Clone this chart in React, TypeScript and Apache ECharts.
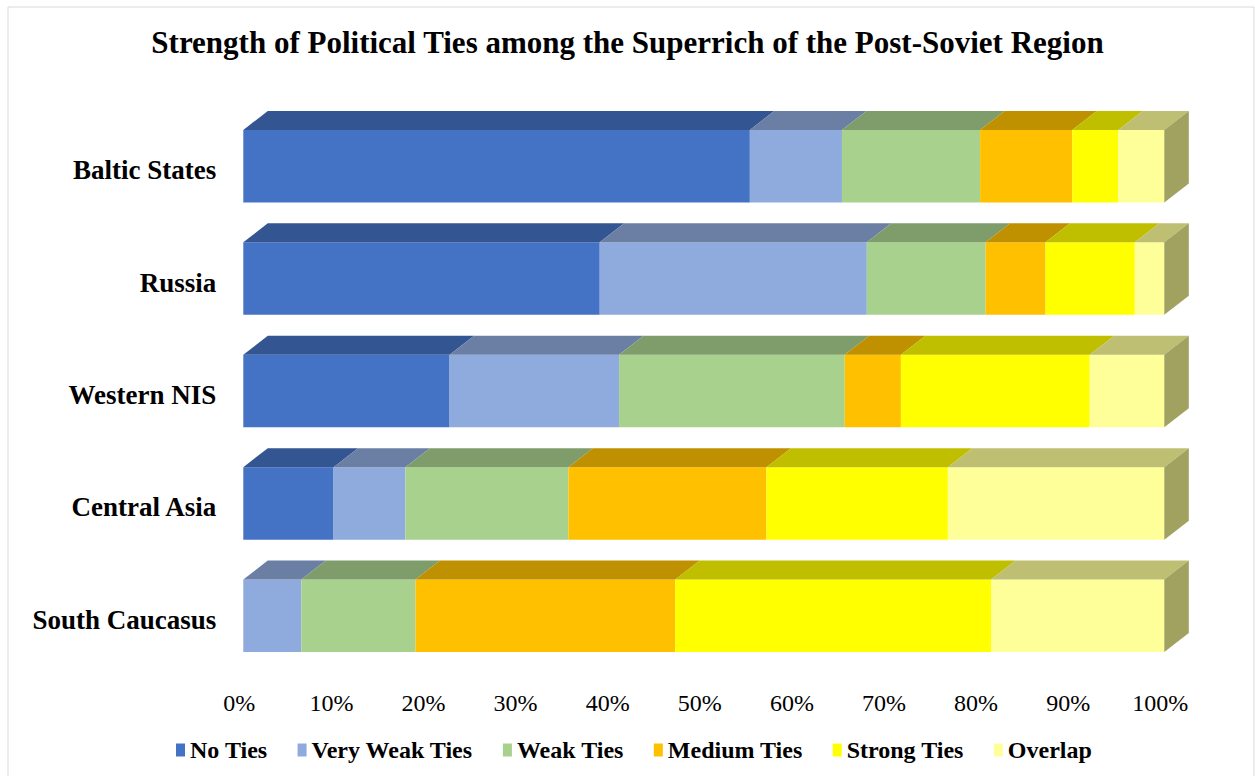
import React, { useEffect, useRef } from "react";
import * as echarts from "echarts";

const categories = ["Baltic States", "Russia", "Western NIS", "Central Asia", "South Caucasus"];
const seriesNames = ["No Ties", "Very Weak Ties", "Weak Ties", "Medium Ties", "Strong Ties", "Overlap"];
const noTies = [55.0, 38.7, 22.4, 9.8, 0];
const veryWeakTies = [10.0, 29.0, 18.4, 7.8, 6.3];
const weakTies = [15.0, 12.9, 24.5, 17.7, 12.4];
const mediumTies = [10.0, 6.5, 6.1, 21.5, 28.2];
const strongTies = [5.0, 9.7, 20.5, 19.7, 34.3];
const overlap = [5.0, 3.2, 8.1, 23.5, 18.8];
const xTicks = [0, 10, 20, 30, 40, 50, 60, 70, 80, 90, 100];

const frontColors = ["#4472C4", "#8FAADC", "#A9D18E", "#FFC000", "#FFFF00", "#FFFF99"];
const topColors = ["#335693", "#6B7FA5", "#7F9D6B", "#BF9000", "#BFBF00", "#BFBF73"];
const sideColors = ["#2B4A80", "#5A6B8B", "#6B845A", "#A17900", "#A1A100", "#A1A160"];

const FONT = "'Liberation Serif', 'Times New Roman', serif";

export default function App() {
  const ref = useRef<HTMLDivElement>(null);
  useEffect(() => {
    document.body.style.margin = "0";
    if (!ref.current) return;
    const chart = echarts.init(ref.current, null, { renderer: "svg" });
    const all = [noTies, veryWeakTies, weakTies, mediumTies, strongTies, overlap];
    const starts: number[][] = all.map(() => categories.map(() => 0));
    const lastIdx: number[] = categories.map(() => -1);
    categories.forEach((_, c) => {
      let acc = 0;
      all.forEach((arr, s) => {
        starts[s][c] = acc;
        acc += arr[c];
        if (arr[c] > 0) lastIdx[c] = s;
      });
    });
    const dx = 24.5;
    const dy = 19;
    const series = all.map((arr, s) => ({
      type: "custom",
      name: seriesNames[s],
      itemStyle: { color: frontColors[s] },
      encode: { x: [0, 1], y: 2 },
      data: arr.map((v, c) => [starts[s][c], starts[s][c] + v, c]),
      renderItem: (params: any, api: any) => {
        const a = api.value(0);
        const b = api.value(1);
        const c = api.value(2);
        if (b - a <= 0) return null;
        const p0 = api.coord([a, c]);
        const p1 = api.coord([b, c]);
        const band = api.size([0, 1])[1];
        const h = band * 0.645;
        const x0 = p0[0];
        const x1 = p1[0];
        const y0 = p0[1] - h / 2;
        const y1 = p0[1] + h / 2;
        const children: any[] = [
          {
            type: "rect",
            shape: { x: x0, y: y0, width: x1 - x0, height: h },
            style: { fill: frontColors[s] },
          },
          {
            type: "polygon",
            shape: { points: [[x0, y0], [x0 + dx, y0 - dy], [x1 + dx, y0 - dy], [x1, y0]] },
            style: { fill: topColors[s] },
          },
        ];
        if (lastIdx[c] === s) {
          children.push({
            type: "polygon",
            shape: { points: [[x1, y0], [x1 + dx, y0 - dy], [x1 + dx, y1 - dy], [x1, y1]] },
            style: { fill: sideColors[s] },
          });
        }
        return { type: "group", children };
      },
    }));
    chart.setOption({
      animation: false,
      backgroundColor: "#ffffff",
      graphic: [
        {
          type: "rect",
          shape: { x: 8, y: 7, width: 1246, height: 790 },
          style: { fill: "none", stroke: "#D9D9D9", lineWidth: 1 },
          silent: true,
          z: -10,
        },
      ],
      title: {
        text: "Strength of Political Ties among the Superrich of the Post-Soviet Region",
        left: "center",
        top: 22,
        textStyle: { fontFamily: FONT, fontWeight: "bold", fontSize: 31, color: "#000" },
      },
      legend: {
        data: seriesNames.map((n, i) => ({ name: n, icon: "rect", itemStyle: { color: frontColors[i] } })),
        left: 171,
        top: 733,
        itemWidth: 9,
        itemHeight: 13,
        itemGap: 30,
        textStyle: { fontFamily: FONT, fontWeight: "bold", fontSize: 24, color: "#000" },
      },
      grid: { left: 243.3, right: 90.7, top: 110, bottom: 104 },
      xAxis: {
        type: "value",
        min: xTicks[0],
        max: xTicks[xTicks.length - 1],
        interval: 10,
        axisLine: { show: false },
        axisTick: { show: false },
        splitLine: { show: false },
        axisLabel: {
          formatter: "{value}%",
          fontFamily: FONT,
          fontSize: 24,
          color: "#000",
          margin: 19,
          padding: [0, 8, 0, 0],
        },
      },
      yAxis: {
        type: "category",
        data: categories,
        inverse: true,
        axisLine: { show: false },
        axisTick: { show: false },
        axisLabel: {
          fontFamily: FONT,
          fontWeight: "bold",
          fontSize: 27,
          color: "#000",
          margin: 27,
          verticalAlign: "top",
          lineHeight: 8,
        },
      },
      series,
    });
    return () => chart.dispose();
  }, []);
  return <div ref={ref} style={{ width: 1255, height: 776 }} />;
}
